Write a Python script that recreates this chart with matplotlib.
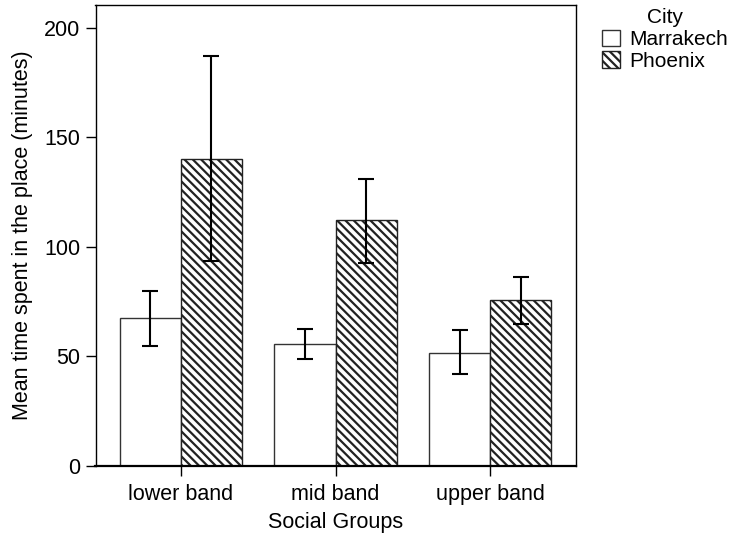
import numpy as np
import matplotlib
matplotlib.use('Agg')
import matplotlib.pyplot as plt

groups = ['lower band', 'mid band', 'upper band']
cities = ['Marrakech', 'Phoenix']

marrakech_mean = [67.5, 55.5, 51.5]
marrakech_low = [55, 49, 42]
marrakech_high = [80, 62.5, 62]

phoenix_mean = [140, 112.5, 76]
phoenix_low = [93.5, 92.5, 65]
phoenix_high = [187, 131, 86.5]

plt.rcParams['font.family'] = ['Liberation Sans', 'DejaVu Sans']
plt.rcParams['font.size'] = 15.5
plt.rcParams['hatch.linewidth'] = 1.6

fig = plt.figure(figsize=(7.34, 5.35), dpi=100)
ax = fig.add_axes([95.5 / 734, 1 - 466 / 535, 480 / 734, 461 / 535])

x = np.arange(len(groups))
w = 0.395

m_err = [np.array(marrakech_mean) - np.array(marrakech_low),
         np.array(marrakech_high) - np.array(marrakech_mean)]
p_err = [np.array(phoenix_mean) - np.array(phoenix_low),
         np.array(phoenix_high) - np.array(phoenix_mean)]

ax.bar(x - w / 2, marrakech_mean, w, color='white', edgecolor='#333333',
       linewidth=1, label=cities[0])
ax.bar(x + w / 2, phoenix_mean, w, color='white', edgecolor='#222222',
       linewidth=1, hatch='\\\\\\\\', label=cities[1])
ax.errorbar(x - w / 2, marrakech_mean, yerr=m_err, fmt='none', ecolor='black',
            elinewidth=1.5, capsize=5.5, capthick=1.5)
ax.errorbar(x + w / 2, phoenix_mean, yerr=p_err, fmt='none', ecolor='black',
            elinewidth=1.5, capsize=5.5, capthick=1.5)

ax.set_xlim(-0.553, 2.553)
ax.set_ylim(0, 210.5)
ax.set_xticks(x)
ax.set_xticklabels(groups)
ax.set_yticks([0, 50, 100, 150, 200])
ax.tick_params(axis='x', length=7, width=1, direction='out', pad=6)
ax.tick_params(axis='y', length=7, width=1, direction='out', pad=4)
for s in ax.spines.values():
    s.set_linewidth(1)
ax.spines['bottom'].set_linewidth(1.6)

ax.set_xlabel('Social Groups', labelpad=5)
ax.set_ylabel('Mean time spent in the place (minutes)', labelpad=8)

leg = fig.legend(loc='upper left', bbox_to_anchor=(602 / 734, 1 - 8 / 535),
                 title='City', frameon=False, borderpad=0, handlelength=0.85,
                 handleheight=0.85, handletextpad=0.45, labelspacing=0.1,
                 fontsize=15, title_fontsize=15, borderaxespad=0)
leg._legend_box.sep = 2

fig.savefig('out.png', dpi=100)
